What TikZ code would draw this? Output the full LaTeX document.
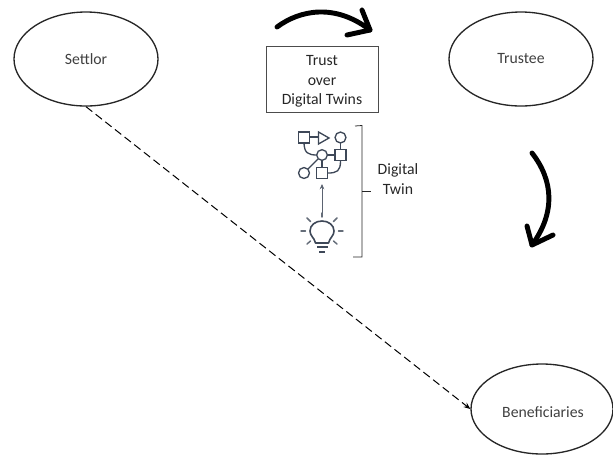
\documentclass[tikz,border=0pt]{standalone}
\usepackage{fontspec}
\setmainfont{Carlito}
\usetikzlibrary{arrows.meta,shapes.geometric}
\definecolor{txt}{RGB}{64,64,64}
\definecolor{icon}{RGB}{62,72,88}
\tikzset{
 party/.style={draw=black!85,line width=1pt,ellipse,inner sep=0pt,text=txt,font=\fontsize{11.8pt}{14pt}\selectfont},
 handarrow/.style={line width=3.7pt,line cap=round,line join=round,black},
 ico/.style={draw=icon,line width=1pt,fill=white},
 icol/.style={draw=icon,line width=1pt},
 bulbray/.style={draw=icon!80,line width=1.1pt,line cap=round},
 lbl/.style={align=center,inner sep=0pt,text=black!85,font=\fontsize{11.8pt}{14.6pt}\selectfont}
}
\begin{document}
\begin{tikzpicture}[x=.75pt,y=-.75pt]
\useasboundingbox (0,0) rectangle (613,455);
\node[party,minimum width=108pt,minimum height=70.5pt] (settlor) at (86,59) {\raisebox{-1pt}{Settlor}};
\node[party,minimum width=108pt,minimum height=70.5pt] (trustee) at (521,59) {\raisebox{-1pt}{Trustee}};
\begin{scope}
\clip (0,0) rectangle (613,455);
\node[party,minimum width=106.5pt,minimum height=67.5pt] (benef) at (542,409) {};
\end{scope}
\node[text=txt,font=\fontsize{11.8pt}{14pt}\selectfont] (beneflabel) at (543,412) {Beneficiaries};
\draw[dash pattern=on 6pt off 3.2pt,line width=.75pt,-{Stealth[length=5pt,width=4pt]}] (settlor.south) -- (benef.west);
\node[draw=black!70,line width=.65pt,minimum width=84pt,minimum height=49.5pt,lbl] (box) at (322,79) {\rule{0pt}{11.5pt}Trust\\over\\Digital Twins};
% hand-drawn arrows
\draw[handarrow] (277,27) .. controls (300,10) and (335,3) .. (370,30);
\draw[handarrow] (362,10) -- (370,30) -- (347,35);
\draw[handarrow] (532,153) .. controls (553,180) and (556,212) .. (532,245);
\draw[handarrow] (527,226) -- (532,245) -- (553,235);
% flow icon
\draw[icol] (310,137) -- (320,137);
\draw[icol] (304,142) .. controls (304,153) and (308,155) .. (317,155);
\draw[icol] (327,155) -- (334,155);
\draw[icol] (340.5,142) -- (340.5,149);
\draw[icol] (318,159) -- (308,169);
\draw[icol] (322,160) -- (322,167);
\draw[icol] (340.5,161) .. controls (340.5,171) and (337,173) .. (328,173);
\node[ico,minimum size=8.2pt,inner sep=0pt,rectangle] (sqa) at (304,137.5) {};
\draw[ico] (318.5,132) -- (329,138) -- (318.5,144) -- cycle;
\node[ico,circle,minimum size=8.2pt,inner sep=0pt] (ca) at (340.5,137.5) {};
\node[ico,circle,minimum size=8pt,inner sep=0pt] (cb) at (322,155) {};
\node[ico,rectangle,minimum size=8.2pt,inner sep=0pt] (sqb) at (340.5,155) {};
\node[ico,circle,minimum size=8.2pt,inner sep=0pt] (cc) at (304,173) {};
\node[ico,rectangle,minimum size=8.2pt,inner sep=0pt] (sqc) at (322,173) {};
% bulb
\coordinate (bulbtop) at (322,213);
\draw[icon!85,line width=.6pt,-{Stealth[length=4pt,width=3.5pt]}] (bulbtop) -- (322,184);
\draw[icol,line width=1.2pt,line join=round] (315.5,243) .. controls (314,237) and (310,236) .. (310,231)
 .. controls (310,225) and (315.5,221) .. (322,221) .. controls (328.5,221) and (334,225) .. (334,231)
 .. controls (334,236) and (330,237) .. (328.5,243) -- cycle;
\draw[icon,line width=1.3pt] (317,247) -- (328,247);
\draw[icon,line width=1.5pt] (319,251.5) -- (325,251.5);
\draw[bulbray] (322,213) -- (322,217);
\draw[bulbray] (307,218) -- (310.5,221.5);
\draw[bulbray] (337,218) -- (333.5,221.5);
\draw[bulbray] (301,231) -- (305.5,231);
\draw[bulbray] (343,231) -- (338.5,231);
\draw[bulbray] (307,244) -- (310.5,241);
\draw[bulbray] (337,244) -- (333.5,241);
% brace
\coordinate (bra) at (355,126);
\coordinate (brb) at (353,257);
\draw[black!85,line width=.6pt] (bra) -- (362,125.5) -- (362,257) -- (brb);
\draw[black!85,line width=.6pt] (362,191) -- (371,191);
\node[lbl] (dt) at (398,179) {Digital\\Twin};
\end{tikzpicture}
\end{document}
